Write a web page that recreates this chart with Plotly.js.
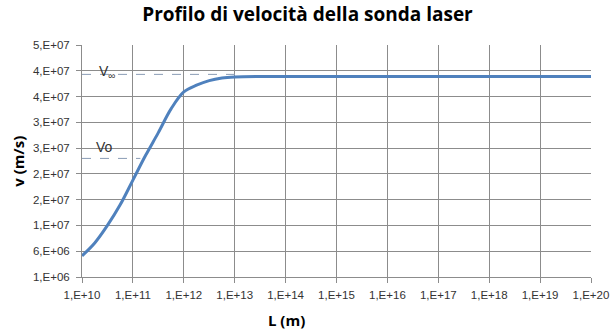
<!DOCTYPE html>
<html>
<head>
<meta charset="utf-8">
<script src="https://cdn.plot.ly/plotly-3.0.1.min.js"></script>
<style>html,body{margin:0;padding:0;background:#fff;}#chart{width:615px;height:334px;}</style>
</head>
<body>
<div id="chart"></div>
<script>
// Distance L (m) and probe velocity v (m/s)
const L = [1e10, 1.78e10, 3.16e10, 5.62e10, 1e11, 1.78e11, 3.16e11, 5.62e11, 1e12, 1.78e12, 3.16e12, 5.62e12, 1e13, 3.16e13, 1e14, 1e15, 1e16, 1e17, 1e18, 1e19, 1e20];
const v = [5.1e6, 7.6e6, 1.10e7, 1.50e7, 1.98e7, 2.46e7, 2.90e7, 3.36e7, 3.69e7, 3.82e7, 3.91e7, 3.96e7, 3.98e7, 3.99e7, 3.99e7, 3.99e7, 3.99e7, 3.99e7, 3.99e7, 3.99e7, 3.99e7];
// Reference levels
const v0L = [1e10, 1.4e11];
const v0 = [2.4e7, 2.4e7];
const vInfL = [1e10, 1.45e13];
const vInf = [4.03e7, 4.03e7];
// Tick labels
const xTickVals = [1e10, 1e11, 1e12, 1e13, 1e14, 1e15, 1e16, 1e17, 1e18, 1e19, 1e20];
const xTickText = ["1,E+10","1,E+11","1,E+12","1,E+13","1,E+14","1,E+15","1,E+16","1,E+17","1,E+18","1,E+19","1,E+20"];
const yTickVals = [1e6, 6e6, 1.1e7, 1.6e7, 2.1e7, 2.6e7, 3.1e7, 3.6e7, 4.1e7, 4.6e7];
const yTickText = ["1,E+06","6,E+06","1,E+07","2,E+07","2,E+07","3,E+07","3,E+07","4,E+07","4,E+07","5,E+07"];

const tickFont = {family: "Liberation Sans, Arial, sans-serif", size: 11.5, color: "#333"};
const traces = [
  {x: v0L, y: v0, mode: "lines", line: {color: "#8a9cb5", width: 1, dash: "dash"}, hoverinfo: "skip"},
  {x: vInfL, y: vInf, mode: "lines", line: {color: "#8a9cb5", width: 1, dash: "dash"}, hoverinfo: "skip"},
  {x: L, y: v, mode: "lines", line: {color: "#4f81bd", width: 3, shape: "spline", smoothing: 1}}
];
const layout = {
  width: 615, height: 334,
  margin: {l: 82, r: 24, t: 45, b: 57},
  paper_bgcolor: "#fff", plot_bgcolor: "#fff",
  showlegend: false,
  title: {text: "<b>Profilo di velocità della sonda laser</b>", x: 0.5, xanchor: "center", y: 0.958, yanchor: "middle",
    font: {family: "Open Sans, Liberation Sans, sans-serif", size: 19, color: "#000"}},
  xaxis: {type: "log", range: [10, 20], tickvals: xTickVals, ticktext: xTickText, tickfont: tickFont,
    showgrid: true, gridcolor: "#8c8c8c", gridwidth: 1, showline: true, linecolor: "#8c8c8c", linewidth: 1,
    ticks: "outside", ticklen: 5, tickcolor: "#8c8c8c", zeroline: false, fixedrange: true, ticklabelstandoff: 2},
  yaxis: {range: [1e6, 4.6e7], tickvals: yTickVals, ticktext: yTickText, tickfont: tickFont,
    showgrid: true, gridcolor: "#8c8c8c", gridwidth: 1, showline: true, linecolor: "#8c8c8c", linewidth: 1,
    ticks: "outside", ticklen: 5, tickcolor: "#8c8c8c", zeroline: false, fixedrange: true, ticklabelstandoff: 4},
  annotations: [
    {text: "<b>v (m/s)</b>", xref: "paper", yref: "paper", x: -0.15, y: 0.5, textangle: -90, showarrow: false,
      font: {family: "Open Sans, Liberation Sans, sans-serif", size: 15, color: "#000"}},
    {text: "<b>L (m)</b>", xref: "paper", yref: "paper", x: 0.401, y: -0.185, showarrow: false, xanchor: "center", yanchor: "middle",
      font: {family: "Open Sans, Liberation Sans, sans-serif", size: 15, color: "#000"}},
    {text: "Vo", xref: "x", yref: "y", x: 10.45, y: 2.4e7, yanchor: "bottom", xanchor: "center", showarrow: false, yshift: 1,
      font: {family: "Liberation Sans, Arial, sans-serif", size: 14, color: "#333"}},
    {text: "V<sub>∞</sub>", xref: "x", yref: "y", x: 10.3, y: 4.03e7, yanchor: "middle", xanchor: "left", showarrow: false, yshift: 2,
      font: {family: "Liberation Sans, Arial, sans-serif", size: 14, color: "#333"}}
  ]
};
Plotly.newPlot("chart", traces, layout, {displayModeBar: false, staticPlot: true});
</script>
</body>
</html>
